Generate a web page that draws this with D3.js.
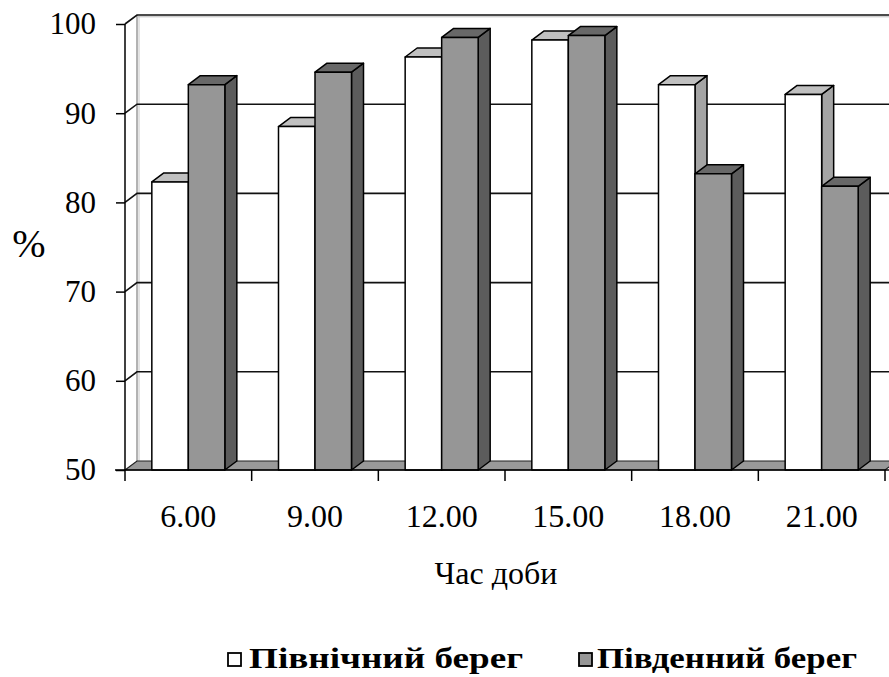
<!DOCTYPE html>
<html>
<head>
<meta charset="utf-8">
<script src="https://cdn.jsdelivr.net/npm/d3@7"></script>
<style>
  html, body { margin: 0; padding: 0; background: #fff; }
  svg { display: block; }
  svg text { font-family: 'Liberation Serif', 'Times New Roman', Times, 'DejaVu Serif', serif !important; fill: #000; }
</style>
</head>
<body>
<svg id="chart" width="889" height="677"></svg>
<script>
// Hours of the day
const categories = ["6.00", "9.00", "12.00", "15.00", "18.00", "21.00"];
// Series names
const seriesNames = ["Північний берег", "Південний берег"];
// Values, %
const northValues = [82.3, 88.5, 96.3, 98.2, 93.2, 92.1];
const southValues = [93.2, 94.6, 98.5, 98.7, 83.2, 81.8];
// Y axis ticks
const yTicks = [50, 60, 70, 80, 90, 100];

const seriesValues = [northValues, southValues];
const faceColors = [
  { front: "#ffffff", top: "#c0c0c0", side: "#a4a4a4" },
  { front: "#969696", top: "#686868", side: "#5c5c5c" }
];
const serif = "'Liberation Serif', 'Times New Roman', Times, 'DejaVu Serif', serif";

const svg = d3.select("#chart");
const W = 889;

// 3D depth offset of the plot box
const dx = 12, dy = -9;

const y = d3.scaleLinear().domain([50, 100]).range([470, 24]);
const x = d3.scaleBand().domain(categories).range([125, 885]).paddingInner(0).paddingOuter(0);
const xs = d3.scaleBand().domain(d3.range(seriesNames.length)).range([0, x.bandwidth()]).paddingInner(0).paddingOuter(0.735);

const y0 = y(50);
const xL = x.range()[0];
const xR = x.range()[1];

// Back wall
svg.append("rect")
  .attr("x", xL + dx).attr("y", y(100) + dy)
  .attr("width", W - (xL + dx) + 20).attr("height", y0 - y(100))
  .attr("fill", "#fff");

// Left side wall
svg.append("path")
  .attr("d", `M${xL},${y(100)}L${xL + dx},${y(100) + dy}L${xL + dx},${y0 + dy}L${xL},${y0}Z`)
  .attr("fill", "#fff");

// Back corner edge
svg.append("line")
  .attr("x1", xL + dx).attr("x2", xL + dx)
  .attr("y1", y(100) + dy).attr("y2", y0 + dy)
  .attr("stroke", "#666").attr("stroke-width", 1);
svg.append("line")
  .attr("x1", xL + dx + 2).attr("x2", xL + dx + 2)
  .attr("y1", y(100) + dy + 1).attr("y2", y0 + dy)
  .attr("stroke", "#c8c8c8").attr("stroke-width", 1);

// Gridlines across the side and back walls
svg.append("g").selectAll("path")
  .data(yTicks.filter(d => d > 50))
  .join("path")
  .attr("d", d => `M${xL},${y(d)}L${xL + dx},${y(d) + dy}L${W + 10},${y(d) + dy}`)
  .attr("fill", "none")
  .attr("stroke", "#111")
  .attr("stroke-width", 1.6);

// Light shadow line under the top edge
svg.append("line")
  .attr("x1", xL + dx).attr("x2", W)
  .attr("y1", y(100) + dy + 1.8).attr("y2", y(100) + dy + 1.8)
  .attr("stroke", "#bbb").attr("stroke-width", 1);

// Floor
svg.append("path")
  .attr("d", `M${xL},${y0}L${xL + dx},${y0 + dy}L${xR + dx},${y0 + dy}L${xR},${y0}Z`)
  .attr("fill", "#999")
  .attr("stroke", "#222")
  .attr("stroke-width", 1.2);

// Bars
const bars = svg.append("g");
categories.forEach((c, i) => {
  seriesValues.forEach((vals, s) => {
    const v = vals[i];
    const bx = x(c) + xs(s);
    const bw = xs.bandwidth();
    const yt = y(v);
    const col = faceColors[s];
    const g = bars.append("g")
      .attr("stroke", "#000").attr("stroke-width", 1.5).attr("stroke-linejoin", "round");
    g.append("path")
      .attr("d", `M${bx + bw},${yt}L${bx + bw + dx},${yt + dy}L${bx + bw + dx},${y0 + dy}L${bx + bw},${y0}Z`)
      .attr("fill", col.side);
    g.append("path")
      .attr("d", `M${bx},${yt}L${bx + dx},${yt + dy}L${bx + bw + dx},${yt + dy}L${bx + bw},${yt}Z`)
      .attr("fill", col.top);
    g.append("rect")
      .attr("x", bx).attr("y", yt).attr("width", bw).attr("height", y0 - yt)
      .attr("fill", col.front);
  });
});

// Y axis (front edge)
const yAxis = svg.append("g")
  .attr("transform", `translate(${xL},0)`)
  .call(d3.axisLeft(y).tickValues(yTicks).tickSize(9).tickPadding(20).tickFormat(d3.format("d")));
yAxis.attr("font-family", serif);
yAxis.select(".domain").attr("stroke", "#000").attr("stroke-width", 1.5).attr("d", `M0,${y(100)}V${y0}`);
yAxis.selectAll(".tick line").attr("stroke", "#000").attr("stroke-width", 1.5);
yAxis.selectAll(".tick text")
  .style("font-family", serif)
  .attr("font-size", 31).attr("fill", "#000");

// X axis (front edge)
const xAxis = svg.append("g")
  .attr("transform", `translate(0,${y0})`)
  .call(d3.axisBottom(x).tickSize(0).tickPadding(34));
xAxis.attr("font-family", serif);
xAxis.select(".domain").remove();
xAxis.selectAll(".tick text")
  .style("font-family", serif)
  .attr("font-size", 32).attr("fill", "#000");

svg.append("line")
  .attr("x1", xL - 10).attr("x2", W)
  .attr("y1", y0).attr("y2", y0)
  .attr("stroke", "#000").attr("stroke-width", 1.5);

// Boundary ticks between categories
const bounds = categories.map(c => x(c)).concat([xR]);
svg.append("g").selectAll("line")
  .data(bounds)
  .join("line")
  .attr("x1", d => d).attr("x2", d => d)
  .attr("y1", y0).attr("y2", y0 + 11)
  .attr("stroke", "#000").attr("stroke-width", 1.5);

// Axis titles
svg.append("text")
  .attr("x", 29).attr("y", 257)
  .attr("text-anchor", "middle")
  .style("font-family", serif)
  .attr("font-size", 40)
  .text("%");

svg.append("text")
  .attr("x", 496).attr("y", 584)
  .attr("text-anchor", "middle")
  .style("font-family", serif)
  .attr("font-size", 32)
  .text("Час доби");

// Legend
const legendItems = [
  { name: seriesNames[0], sx: 228, tx: 249, len: 274, fill: faceColors[0].front },
  { name: seriesNames[1], sx: 579, tx: 597, len: 260, fill: faceColors[1].front }
];
const legend = svg.append("g");
legendItems.forEach(d => {
  legend.append("rect")
    .attr("x", d.sx).attr("y", 653).attr("width", 13).attr("height", 13)
    .attr("fill", d.fill).attr("stroke", "#000").attr("stroke-width", 1.8);
  legend.append("text")
    .attr("x", d.tx).attr("y", 668)
    .style("font-family", serif)
    .attr("font-size", 30).attr("font-weight", "bold")
    .attr("textLength", d.len).attr("lengthAdjust", "spacingAndGlyphs")
    .text(d.name);
});
</script>
</body>
</html>
